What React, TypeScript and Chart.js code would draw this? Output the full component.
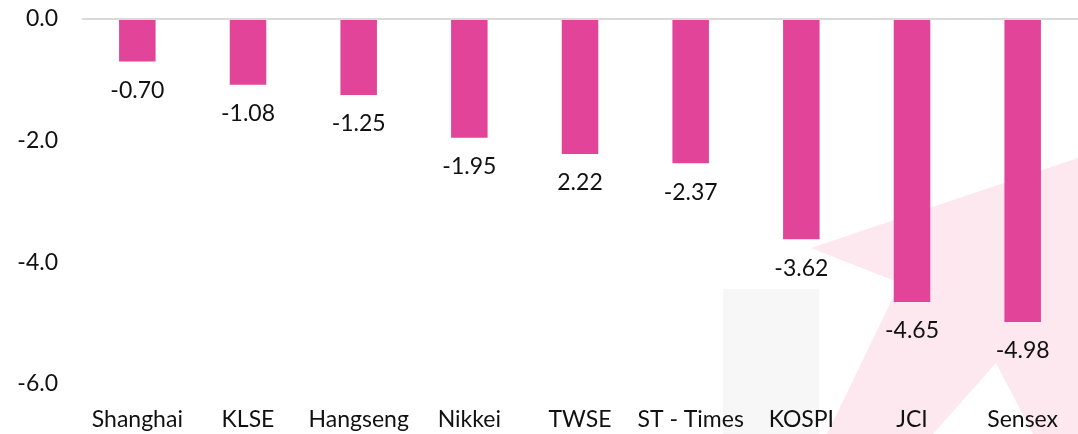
import React, { useEffect, useRef } from "react";
import { Chart, registerables } from "chart.js";

Chart.register(...registerables);

const categories = ["Shanghai", "KLSE", "Hangseng", "Nikkei", "TWSE", "ST - Times", "KOSPI", "JCI", "Sensex"];
const values = [-0.7, -1.08, -1.25, -1.95, -2.22, -2.37, -3.62, -4.65, -4.98];
const valueLabels = ["-0.70", "-1.08", "-1.25", "-1.95", "2.22", "-2.37", "-3.62", "-4.65", "-4.98"];
const yTicks = [0, -2, -4, -6];

const FONT = "Lato, 'Open Sans', sans-serif";
const BAR_COLOR = "#E2449A";
const TEXT_COLOR = "#111111";

const watermarkPlugin = {
  id: "watermark",
  beforeDraw(chart: any) {
    const ctx = chart.ctx;
    ctx.save();
    ctx.fillStyle = "#F7F7F7";
    ctx.fillRect(723, 289, 96, 145);
    ctx.fillStyle = "#FDE8F0";
    ctx.beginPath();
    ctx.moveTo(811, 248);
    ctx.lineTo(1078, 158);
    ctx.lineTo(1078, 434);
    ctx.lineTo(1033, 434);
    ctx.lineTo(996, 363);
    ctx.lineTo(933, 434);
    ctx.lineTo(827, 434);
    ctx.lineTo(900, 283);
    ctx.closePath();
    ctx.fill();
    ctx.restore();
  },
};

const valueLabelPlugin = {
  id: "valueLabels",
  afterDatasetsDraw(chart: any) {
    const ctx = chart.ctx;
    const meta = chart.getDatasetMeta(0);
    ctx.save();
    ctx.font = `23px ${FONT}`;
    ctx.fillStyle = TEXT_COLOR;
    ctx.textAlign = "center";
    ctx.textBaseline = "middle";
    meta.data.forEach((bar: any, i: number) => {
      ctx.fillText(valueLabels[i], bar.x, bar.y + 29);
    });
    ctx.restore();
  },
};

export default function App() {
  const ref = useRef<HTMLCanvasElement>(null);
  useEffect(() => {
    document.body.style.margin = "0";
    const chart = new Chart(ref.current!, {
      type: "bar",
      data: {
        labels: categories,
        datasets: [
          {
            data: values,
            backgroundColor: BAR_COLOR,
            barPercentage: 0.33,
            categoryPercentage: 1,
          },
        ],
      },
      options: {
        responsive: false,
        animation: false,
        layout: { padding: { top: 19, right: -7, left: 0, bottom: 0 } },
        plugins: { legend: { display: false }, tooltip: { enabled: false } },
        scales: {
          x: {
            grid: { display: false },
            border: { display: false },
            ticks: { color: TEXT_COLOR, font: { family: FONT, size: 23 }, padding: 14, maxRotation: 0, autoSkip: false },
            afterFit(scale: any) {
              scale.height = 50;
              scale.paddingLeft = 0;
              scale.paddingRight = 0;
            },
          },
          y: {
            min: -6,
            max: 0,
            afterBuildTicks(scale: any) {
              scale.ticks = yTicks.map((v) => ({ value: v }));
            },
            grid: {
              color: (c: any) => (c.tick && c.tick.value === 0 ? "#D9D9D9" : "rgba(0,0,0,0)"),
              lineWidth: 2,
              drawTicks: false,
            },
            border: { display: false },
            ticks: {
              color: TEXT_COLOR,
              font: { family: FONT, size: 23 },
              padding: 24,
              callback: (v: any) => Number(v).toFixed(1),
            },
            afterFit(scale: any) {
              scale.width = 82;
              scale.paddingTop = 0;
              scale.paddingBottom = 0;
            },
          },
        },
      },
      plugins: [watermarkPlugin, valueLabelPlugin],
    });
    return () => chart.destroy();
  }, []);
  return <canvas ref={ref} width={1078} height={434} style={{ display: "block" }} />;
}
